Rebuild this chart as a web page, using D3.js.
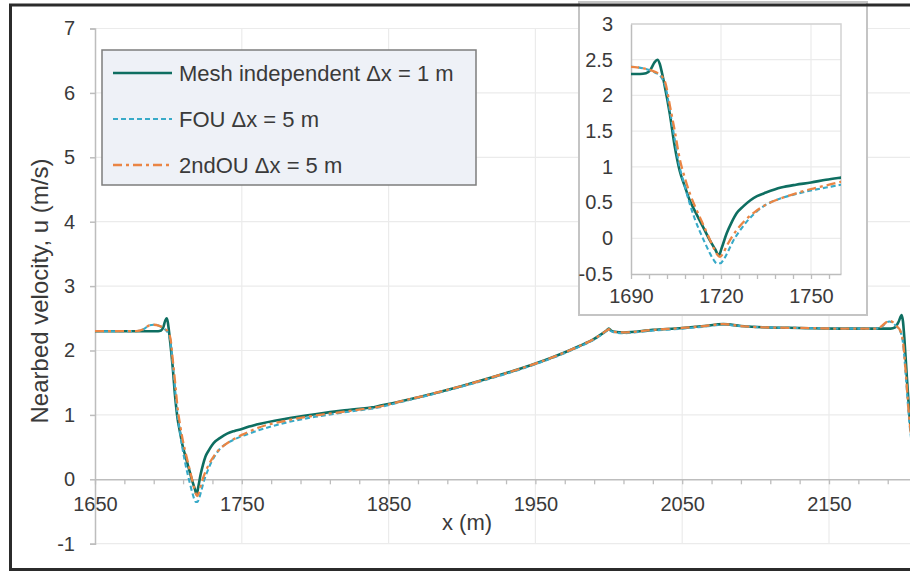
<!DOCTYPE html>
<html>
<head>
<meta charset="utf-8">
<script src="https://cdn.jsdelivr.net/npm/d3@7"></script>
<style>
  html, body { margin: 0; padding: 0; background: #fff; }
  svg { display: block; font-family: "Liberation Sans", Arial, sans-serif; }
</style>
</head>
<body>
<svg id="chart" width="910" height="572"></svg>
<script>
// ---- Nearbed velocity profiles along x ----
const meshX = [1650, 1680, 1693, 1695, 1696.5, 1697.8, 1698.8, 1699.6, 1700.3, 1701.2, 1702.9, 1704.6, 1706.2, 1708, 1709.6, 1711.2, 1712.9, 1714.6, 1716.3, 1718, 1719.3, 1720.2, 1721.9, 1723.5, 1725.2, 1727.5, 1729.7, 1732, 1735, 1740, 1745, 1750, 1755, 1760, 1780, 1800, 1820, 1838, 1840, 1842, 1860, 1880, 1900, 1920, 1940, 1960, 1980, 1990, 1996, 1998.5, 2000, 2001.5, 2004, 2010, 2030, 2050, 2065, 2078, 2090, 2105, 2130, 2160, 2192, 2195, 2197.5, 2199.5, 2200.4, 2201.3, 2203, 2205, 2207, 2210];
const meshU = [2.30, 2.30, 2.30, 2.31, 2.36, 2.46, 2.50, 2.44, 2.32, 2.14, 1.75, 1.28, 0.95, 0.72, 0.53, 0.39, 0.25, 0.11, -0.03, -0.15, -0.24, -0.14, 0.07, 0.22, 0.35, 0.45, 0.53, 0.59, 0.64, 0.71, 0.75, 0.78, 0.82, 0.85, 0.94, 1.01, 1.07, 1.115, 1.12, 1.13, 1.22, 1.33, 1.45, 1.58, 1.72, 1.88, 2.07, 2.18, 2.27, 2.31, 2.34, 2.31, 2.29, 2.28, 2.32, 2.35, 2.38, 2.41, 2.38, 2.36, 2.35, 2.34, 2.34, 2.36, 2.45, 2.55, 2.45, 2.20, 1.60, 0.95, 0.55, 0.20];

const fouX = [1650, 1678, 1683, 1687, 1690, 1694, 1698, 1700, 1701.5, 1703, 1704.6, 1706.2, 1708, 1709.6, 1711.2, 1712.9, 1714.6, 1716.3, 1717.5, 1718.6, 1719.8, 1721, 1722.5, 1724, 1726, 1728.5, 1731, 1735, 1740, 1745, 1750, 1755, 1760, 1780, 1800, 1820, 1838, 1840, 1842, 1860, 1880, 1900, 1920, 1940, 1960, 1980, 1990, 1996, 1998.5, 2000, 2001.5, 2004, 2010, 2030, 2050, 2065, 2078, 2090, 2105, 2130, 2160, 2182, 2186, 2189, 2191, 2193.5, 2196, 2198.5, 2200.5, 2202.5, 2204.5, 2207, 2210];
const fouU = [2.30, 2.30, 2.33, 2.39, 2.40, 2.38, 2.32, 2.26, 2.12, 1.78, 1.38, 1.00, 0.72, 0.48, 0.28, 0.10, -0.06, -0.21, -0.30, -0.35, -0.35, -0.29, -0.17, -0.04, 0.09, 0.23, 0.34, 0.47, 0.56, 0.62, 0.67, 0.71, 0.75, 0.88, 0.97, 1.04, 1.095, 1.10, 1.11, 1.21, 1.32, 1.44, 1.57, 1.71, 1.87, 2.06, 2.17, 2.26, 2.30, 2.32, 2.30, 2.28, 2.27, 2.31, 2.34, 2.37, 2.40, 2.38, 2.36, 2.35, 2.34, 2.34, 2.37, 2.43, 2.45, 2.43, 2.37, 2.30, 2.10, 1.55, 0.95, 0.45, 0.10];

const secX = [1650, 1678, 1683, 1687, 1690, 1694, 1698, 1700, 1701.5, 1703, 1704.6, 1706.2, 1708, 1709.6, 1711.2, 1712.9, 1714.6, 1716.3, 1717.6, 1718.8, 1719.7, 1720.7, 1722, 1723.5, 1725.5, 1728, 1731, 1735, 1740, 1745, 1750, 1755, 1760, 1780, 1800, 1820, 1838, 1840, 1842, 1860, 1880, 1900, 1920, 1940, 1960, 1980, 1990, 1996, 1998.5, 2000, 2001.5, 2004, 2010, 2030, 2050, 2065, 2078, 2090, 2105, 2130, 2160, 2182, 2186, 2189, 2191, 2193.5, 2196, 2198.5, 2200.5, 2202.5, 2204.5, 2207, 2210];
const secU = [2.30, 2.30, 2.33, 2.39, 2.40, 2.38, 2.33, 2.28, 2.17, 1.85, 1.50, 1.12, 0.84, 0.63, 0.46, 0.30, 0.14, -0.02, -0.14, -0.23, -0.26, -0.21, -0.10, 0.01, 0.13, 0.25, 0.36, 0.47, 0.56, 0.63, 0.69, 0.74, 0.79, 0.91, 0.99, 1.05, 1.105, 1.11, 1.12, 1.22, 1.33, 1.45, 1.58, 1.72, 1.88, 2.07, 2.18, 2.27, 2.31, 2.33, 2.31, 2.29, 2.28, 2.32, 2.35, 2.38, 2.41, 2.38, 2.36, 2.35, 2.34, 2.34, 2.38, 2.44, 2.46, 2.44, 2.38, 2.31, 2.12, 1.60, 1.00, 0.50, 0.15];

// ---- axes: ticks and labels ----
const mainXTicks = [1650, 1750, 1850, 1950, 2050, 2150];
const mainXLabels = ["1650", "1750", "1850", "1950", "2050", "2150"];
const mainXMinorStep = 20;
const mainYTicks = [-1, 0, 1, 2, 3, 4, 5, 6, 7];
const mainYLabels = ["-1", "0", "1", "2", "3", "4", "5", "6", "7"];

const insetXTicks = [1690, 1720, 1750];
const insetXLabels = ["1690", "1720", "1750"];
const insetXMinorStep = 6;
const insetYTicks = [-0.5, 0, 0.5, 1, 1.5, 2, 2.5, 3];
const insetYLabels = ["-0.5", "0", "0.5", "1", "1.5", "2", "2.5", "3"];

const seriesNames = ["Mesh independent \u0394x = 1 m", "FOU \u0394x = 5 m", "2ndOU \u0394x = 5 m"];

// ---- styling ----
const TEXT = "#3a3a3a";
const GRID = "#ebebeb";
const AXIS = "#bdbdbd";
const styles = [
  { color: "#0e6e61", width: 2.6, dash: null },
  { color: "#38aac8", width: 2.1, dash: "5,3" },
  { color: "#ea8544", width: 2.3, dash: "9,4,3,4" }
];
const series = [
  { x: meshX, u: meshU },
  { x: fouX, u: fouU },
  { x: secX, u: secU }
];

const svg = d3.select("#chart");

// ---- main chart ----
const x = d3.scaleLinear().domain([1650, 2150]).range([95, 829]);
const y = d3.scaleLinear().domain([-1, 7]).range([543.7, 28.5]);
const rightEdge = 912;

const main = svg.append("g");

// gridlines
main.append("g").selectAll("line").data(mainYTicks.filter(d => d !== 0)).join("line")
  .attr("x1", x(1650)).attr("x2", rightEdge)
  .attr("y1", d => y(d)).attr("y2", d => y(d))
  .attr("stroke", GRID).attr("stroke-width", 1.2);
main.append("g").selectAll("line").data(mainXTicks.slice(1)).join("line")
  .attr("x1", d => x(d)).attr("x2", d => x(d))
  .attr("y1", y(7)).attr("y2", y(-1))
  .attr("stroke", GRID).attr("stroke-width", 1.2);

// y axis
const yAxis = main.append("g").attr("transform", `translate(${x(1650)},0)`)
  .call(d3.axisLeft(y).tickValues(mainYTicks)
    .tickFormat((d, i) => mainYLabels[i]).tickSize(5).tickPadding(15));
yAxis.select(".domain").attr("stroke", AXIS).attr("stroke-width", 1.5);
yAxis.selectAll(".tick line").attr("stroke", AXIS).attr("stroke-width", 1.5);
yAxis.selectAll("text").attr("fill", TEXT).style("font-size", "20px")
  .style("font-family", "Liberation Sans, Arial, sans-serif");

// x axis at u = 0: minor ticks
const xFull = x.copy().domain([1650, 2250]).range([x(1650), x(2250)]);
const xMinor = main.append("g").attr("transform", `translate(0,${y(0)})`)
  .call(d3.axisBottom(xFull).tickValues(d3.range(1650, 2241, mainXMinorStep))
    .tickFormat("").tickSizeInner(5).tickSizeOuter(0));
xMinor.select(".domain").attr("stroke", AXIS).attr("stroke-width", 1.5);
xMinor.selectAll(".tick line").attr("stroke", AXIS).attr("stroke-width", 1.3);

// x axis labels
const xLab = main.append("g").attr("transform", `translate(0,${y(0)})`)
  .call(d3.axisBottom(x).tickValues(mainXTicks)
    .tickFormat((d, i) => mainXLabels[i]).tickSize(0).tickPadding(18));
xLab.select(".domain").remove();
xLab.selectAll("text").attr("fill", TEXT).style("font-size", "20px")
  .style("font-family", "Liberation Sans, Arial, sans-serif");

// series
series.forEach((s, i) => {
  const line = d3.line().x(j => x(s.x[j])).y(j => y(s.u[j])).curve(d3.curveMonotoneX);
  main.append("path")
    .attr("d", line(d3.range(s.x.length)))
    .attr("fill", "none")
    .attr("stroke", styles[i].color)
    .attr("stroke-width", styles[i].width)
    .attr("stroke-dasharray", styles[i].dash)
    .attr("stroke-linejoin", "round");
});

// axis titles
main.append("text")
  .attr("transform", "translate(48,291) rotate(-90)")
  .attr("text-anchor", "middle")
  .attr("fill", TEXT).style("font-size", "24px")
  .text("Nearbed velocity, u (m/s)");
main.append("text")
  .attr("x", 467).attr("y", 530)
  .attr("text-anchor", "middle")
  .attr("fill", TEXT).style("font-size", "22px")
  .text("x (m)");

// ---- legend ----
const legend = svg.append("g");
legend.append("rect")
  .attr("x", 102).attr("y", 50).attr("width", 374).attr("height", 135)
  .attr("fill", "#eef1f7").attr("stroke", "#7d7d7d").attr("stroke-width", 1.5);
seriesNames.forEach((name, i) => {
  const ry = 73 + i * 46;
  legend.append("line")
    .attr("x1", 113).attr("x2", 172).attr("y1", ry).attr("y2", ry)
    .attr("stroke", styles[i].color).attr("stroke-width", styles[i].width)
    .attr("stroke-dasharray", styles[i].dash);
  legend.append("text")
    .attr("x", 179).attr("y", ry + 8)
    .attr("fill", TEXT).style("font-size", "22px")
    .text(name);
});

// ---- inset: zoom on the first drop ----
const inset = svg.append("g");
inset.append("rect")
  .attr("x", 579).attr("y", 2).attr("width", 288).attr("height", 313)
  .attr("fill", "#fff").attr("stroke", "#c4c4c4").attr("stroke-width", 2);

const xi = d3.scaleLinear().domain([1690, 1760]).range([631, 841]);
const yi = d3.scaleLinear().domain([-0.5, 3]).range([274, 24]);

inset.append("g").selectAll("line").data(insetYTicks.slice(1)).join("line")
  .attr("x1", xi(1690)).attr("x2", xi(1760))
  .attr("y1", d => yi(d)).attr("y2", d => yi(d))
  .attr("stroke", GRID).attr("stroke-width", 1.2);
inset.append("g").selectAll("line").data(insetXTicks.slice(1)).join("line")
  .attr("x1", d => xi(d)).attr("x2", d => xi(d))
  .attr("y1", yi(3)).attr("y2", yi(-0.5))
  .attr("stroke", GRID).attr("stroke-width", 1.2);
// plot-area outline on top and right
inset.append("path")
  .attr("d", `M${xi(1690)},${yi(3)}H${xi(1760)}V${yi(-0.5)}`)
  .attr("fill", "none").attr("stroke", "#d2d2d2").attr("stroke-width", 1.5);

const yiAxis = inset.append("g").attr("transform", `translate(${xi(1690)},0)`)
  .call(d3.axisLeft(yi).tickValues(insetYTicks)
    .tickFormat((d, i) => insetYLabels[i]).tickSize(0).tickPadding(18));
yiAxis.select(".domain").attr("stroke", AXIS).attr("stroke-width", 1.5);
yiAxis.selectAll("text").attr("fill", TEXT).style("font-size", "20px")
  .style("font-family", "Liberation Sans, Arial, sans-serif");

const xiMinor = inset.append("g").attr("transform", `translate(0,${yi(-0.5)})`)
  .call(d3.axisBottom(xi).tickValues(d3.range(1690, 1761, insetXMinorStep))
    .tickFormat("").tickSizeInner(5).tickSizeOuter(0));
xiMinor.select(".domain").attr("stroke", AXIS).attr("stroke-width", 1.5);
xiMinor.selectAll(".tick line").attr("stroke", AXIS).attr("stroke-width", 1.3);

const xiLab = inset.append("g").attr("transform", `translate(0,${yi(-0.5)})`)
  .call(d3.axisBottom(xi).tickValues(insetXTicks)
    .tickFormat((d, i) => insetXLabels[i]).tickSize(0).tickPadding(15));
xiLab.select(".domain").remove();
xiLab.selectAll("text").attr("fill", TEXT).style("font-size", "20px")
  .style("font-family", "Liberation Sans, Arial, sans-serif");

svg.append("clipPath").attr("id", "inset-clip")
  .append("rect").attr("x", xi(1690)).attr("y", yi(3))
  .attr("width", xi(1760) - xi(1690)).attr("height", yi(-0.5) - yi(3));

series.forEach((s, i) => {
  const line = d3.line().x(j => xi(s.x[j])).y(j => yi(s.u[j])).curve(d3.curveMonotoneX);
  const idx = d3.range(s.x.length).filter(j => s.x[j] <= 1780);
  inset.append("path")
    .attr("clip-path", "url(#inset-clip)")
    .attr("d", line(idx))
    .attr("fill", "none")
    .attr("stroke", styles[i].color)
    .attr("stroke-width", styles[i].width)
    .attr("stroke-dasharray", styles[i].dash)
    .attr("stroke-linejoin", "round");
});

// ---- figure frame ----
svg.append("rect")
  .attr("x", 10.5).attr("y", 5).attr("width", 905).attr("height", 564.5)
  .attr("fill", "none").attr("stroke", "#2b2b2b").attr("stroke-width", 3);
</script>
</body>
</html>
